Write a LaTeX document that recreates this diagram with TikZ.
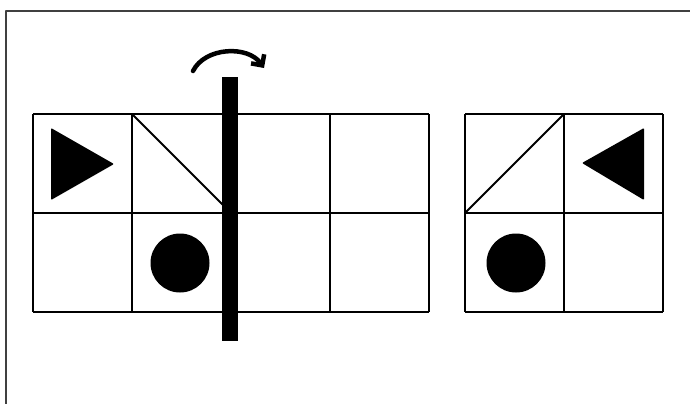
\documentclass[tikz,border=0pt]{standalone}
\usetikzlibrary{arrows.meta}
\begin{document}
\begin{tikzpicture}[x=1pt, y=-1pt, line join=round]
    \useasboundingbox (0,0) rectangle (690,404);
    \draw[line width=1.5pt, black!75] (690,11) -- (6,11) -- (6,404);
    % left strip
    \foreach \x in {33,132,231,330,429}
      \draw[line width=2.2pt] (\x,114) -- (\x,312);
    \foreach \y in {114,213,312}
      \draw[line width=2.2pt] (33,\y) -- (429,\y);
    \draw[line width=1.8pt] (132,114) -- (231,213);
    \fill[rounded corners=1pt] (51,128) -- (114,164) -- (51,200) -- cycle;
    \fill (180,263) circle (29.5);
    % fold line and turn arrow
    \fill (222,77) rectangle (238,341);
    \draw[line width=4.5pt, line cap=round, -{Straight Barb[length=8pt, width=16pt, line width=4.5pt]}]
      (193,71) .. controls (205,47) and (248,45) .. (264,68);
    % right strip
    \foreach \x in {465,564,663}
      \draw[line width=2.2pt] (\x,114) -- (\x,312);
    \foreach \y in {114,213,312}
      \draw[line width=2.2pt] (465,\y) -- (663,\y);
    \draw[line width=1.8pt] (465,213) -- (564,114);
    \fill[rounded corners=1pt] (644,128) -- (582,163) -- (644,200) -- cycle;
    \fill (516,263) circle (29.5);
\end{tikzpicture}
\end{document}
